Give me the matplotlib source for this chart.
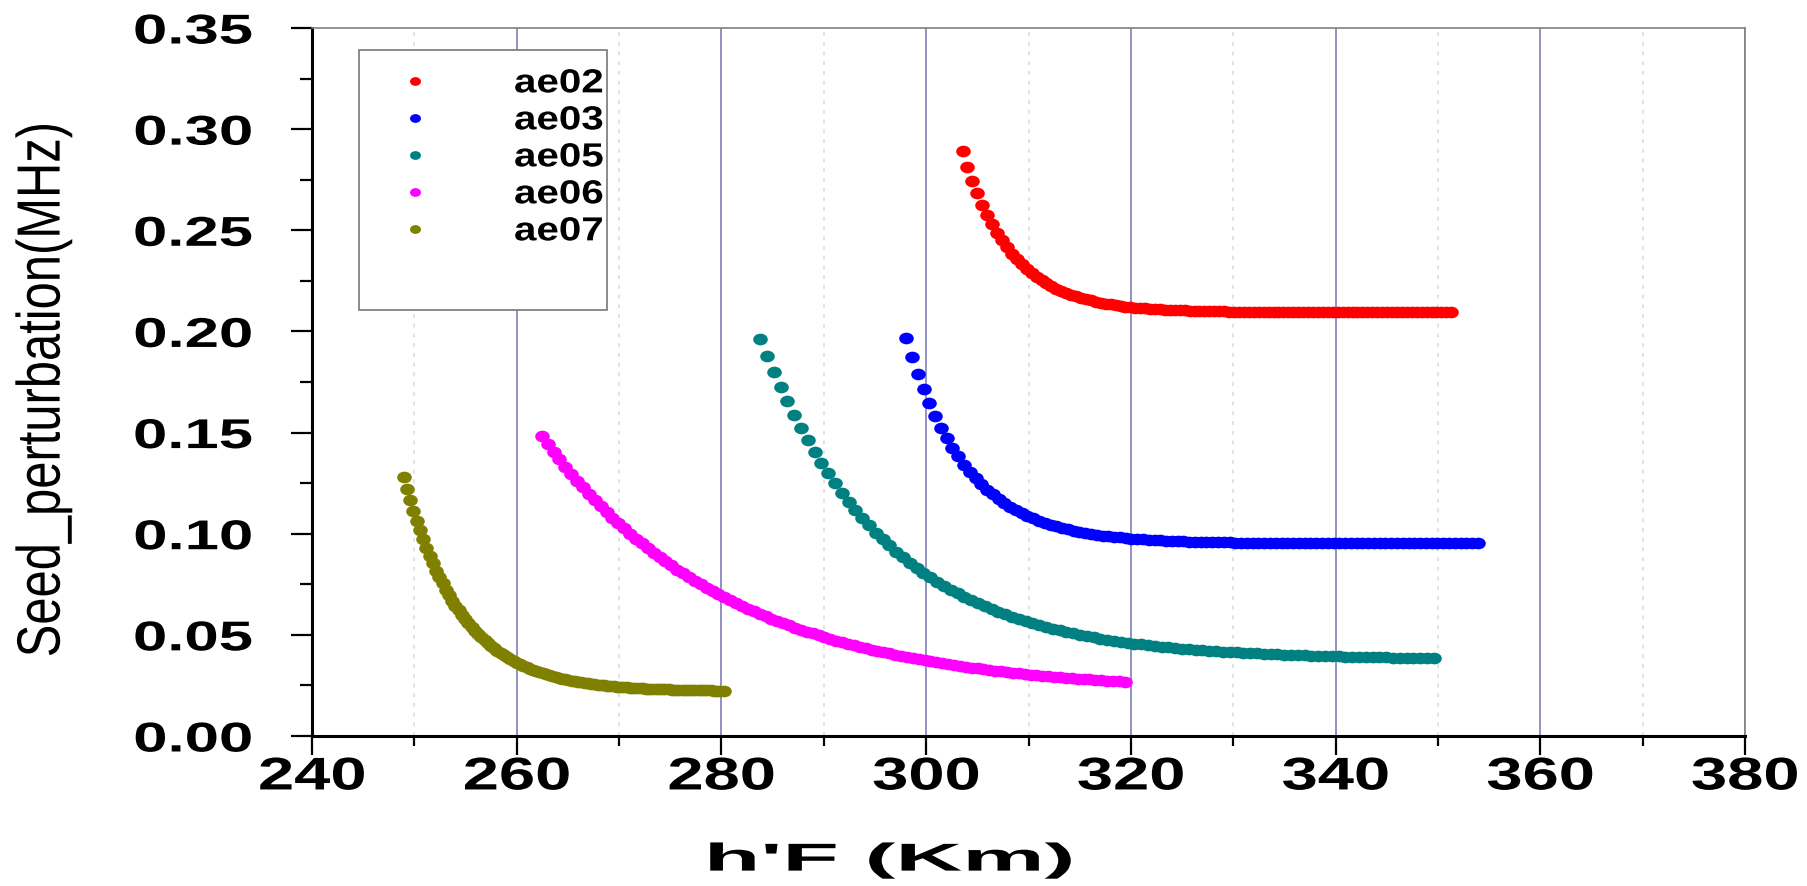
import numpy as np
import matplotlib
matplotlib.use("Agg")
import matplotlib.pyplot as plt
from matplotlib.path import Path
from matplotlib.patches import Rectangle
from matplotlib.patheffects import AbstractPathEffect
from matplotlib.transforms import Affine2D
from matplotlib.ticker import MultipleLocator, FormatStrFormatter

# h'F sweep (first, last) for each station; samples are evenly spaced
ae02_hf = (303.55, 351.3)
ae03_hf = (298.05, 353.9)
ae05_hf = (283.78, 349.6)
ae06_hf = (262.44, 319.4)
ae07_hf = (248.96, 280.2)

# seed perturbation (MHz), 100 samples per station
ae02_seed = [
    0.2890, 0.2814, 0.2745, 0.2682, 0.2626, 0.2575, 0.2529, 0.2487, 0.2450, 0.2416,
    0.2385, 0.2357, 0.2332, 0.2309, 0.2289, 0.2270, 0.2253, 0.2238, 0.2224, 0.2212,
    0.2201, 0.2191, 0.2181, 0.2173, 0.2166, 0.2159, 0.2153, 0.2147, 0.2142, 0.2138,
    0.2134, 0.2130, 0.2127, 0.2123, 0.2121, 0.2118, 0.2116, 0.2114, 0.2112, 0.2111,
    0.2109, 0.2108, 0.2107, 0.2105, 0.2104, 0.2104, 0.2103, 0.2102, 0.2101, 0.2101,
    0.2100, 0.2100, 0.2099, 0.2099, 0.2098, 0.2098, 0.2098, 0.2098, 0.2097, 0.2097,
    0.2097, 0.2097, 0.2097, 0.2096, 0.2096, 0.2096, 0.2096, 0.2096, 0.2096, 0.2096,
    0.2096, 0.2096, 0.2096, 0.2096, 0.2096, 0.2095, 0.2095, 0.2095, 0.2095, 0.2095,
    0.2095, 0.2095, 0.2095, 0.2095, 0.2095, 0.2095, 0.2095, 0.2095, 0.2095, 0.2095,
    0.2095, 0.2095, 0.2095, 0.2095, 0.2095, 0.2095, 0.2095, 0.2095, 0.2095, 0.2095,
]
ae03_seed = [
    0.1968, 0.1875, 0.1791, 0.1715, 0.1645, 0.1582, 0.1524, 0.1472, 0.1425, 0.1382,
    0.1342, 0.1307, 0.1274, 0.1245, 0.1218, 0.1194, 0.1172, 0.1152, 0.1134, 0.1117,
    0.1102, 0.1088, 0.1076, 0.1065, 0.1054, 0.1045, 0.1037, 0.1029, 0.1022, 0.1015,
    0.1010, 0.1004, 0.1000, 0.0995, 0.0991, 0.0988, 0.0984, 0.0982, 0.0979, 0.0976,
    0.0974, 0.0972, 0.0970, 0.0969, 0.0967, 0.0966, 0.0965, 0.0963, 0.0962, 0.0961,
    0.0961, 0.0960, 0.0959, 0.0958, 0.0958, 0.0957, 0.0957, 0.0956, 0.0956, 0.0956,
    0.0955, 0.0955, 0.0955, 0.0954, 0.0954, 0.0954, 0.0954, 0.0954, 0.0953, 0.0953,
    0.0953, 0.0953, 0.0953, 0.0953, 0.0953, 0.0953, 0.0953, 0.0952, 0.0952, 0.0952,
    0.0952, 0.0952, 0.0952, 0.0952, 0.0952, 0.0952, 0.0952, 0.0952, 0.0952, 0.0952,
    0.0952, 0.0952, 0.0952, 0.0952, 0.0952, 0.0952, 0.0952, 0.0952, 0.0952, 0.0952,
]
ae05_seed = [
    0.1964, 0.1880, 0.1800, 0.1725, 0.1654, 0.1586, 0.1522, 0.1461, 0.1404, 0.1350,
    0.1298, 0.1249, 0.1203, 0.1159, 0.1118, 0.1079, 0.1042, 0.1006, 0.0973, 0.0942,
    0.0912, 0.0883, 0.0857, 0.0831, 0.0807, 0.0785, 0.0763, 0.0743, 0.0723, 0.0705,
    0.0688, 0.0671, 0.0656, 0.0641, 0.0627, 0.0614, 0.0601, 0.0590, 0.0578, 0.0568,
    0.0558, 0.0548, 0.0539, 0.0531, 0.0522, 0.0515, 0.0508, 0.0501, 0.0494, 0.0488,
    0.0482, 0.0477, 0.0471, 0.0467, 0.0462, 0.0457, 0.0453, 0.0449, 0.0445, 0.0442,
    0.0438, 0.0435, 0.0432, 0.0429, 0.0427, 0.0424, 0.0422, 0.0419, 0.0417, 0.0415,
    0.0413, 0.0411, 0.0409, 0.0408, 0.0406, 0.0405, 0.0403, 0.0402, 0.0401, 0.0400,
    0.0398, 0.0397, 0.0396, 0.0395, 0.0394, 0.0394, 0.0393, 0.0392, 0.0391, 0.0390,
    0.0390, 0.0389, 0.0389, 0.0388, 0.0388, 0.0387, 0.0387, 0.0386, 0.0386, 0.0385,
]
ae06_seed = [
    0.1484, 0.1444, 0.1405, 0.1368, 0.1332, 0.1297, 0.1263, 0.1230, 0.1198, 0.1167,
    0.1137, 0.1108, 0.1080, 0.1053, 0.1026, 0.1001, 0.0976, 0.0952, 0.0929, 0.0906,
    0.0885, 0.0864, 0.0843, 0.0823, 0.0804, 0.0786, 0.0768, 0.0750, 0.0734, 0.0717,
    0.0702, 0.0686, 0.0671, 0.0657, 0.0643, 0.0630, 0.0617, 0.0604, 0.0592, 0.0580,
    0.0568, 0.0557, 0.0547, 0.0536, 0.0526, 0.0516, 0.0507, 0.0498, 0.0489, 0.0480,
    0.0472, 0.0464, 0.0456, 0.0448, 0.0441, 0.0434, 0.0427, 0.0420, 0.0414, 0.0408,
    0.0402, 0.0396, 0.0390, 0.0384, 0.0379, 0.0374, 0.0369, 0.0364, 0.0359, 0.0355,
    0.0350, 0.0346, 0.0342, 0.0338, 0.0334, 0.0330, 0.0327, 0.0323, 0.0320, 0.0317,
    0.0313, 0.0310, 0.0307, 0.0304, 0.0302, 0.0299, 0.0296, 0.0294, 0.0291, 0.0289,
    0.0287, 0.0284, 0.0282, 0.0280, 0.0278, 0.0276, 0.0274, 0.0272, 0.0270, 0.0269,
]
ae07_seed = [
    0.1282, 0.1223, 0.1167, 0.1114, 0.1064, 0.1017, 0.0973, 0.0931, 0.0891, 0.0854,
    0.0818, 0.0785, 0.0754, 0.0724, 0.0696, 0.0669, 0.0644, 0.0621, 0.0598, 0.0577,
    0.0557, 0.0538, 0.0521, 0.0504, 0.0488, 0.0473, 0.0459, 0.0446, 0.0433, 0.0421,
    0.0410, 0.0399, 0.0389, 0.0380, 0.0371, 0.0363, 0.0355, 0.0347, 0.0340, 0.0333,
    0.0327, 0.0321, 0.0316, 0.0310, 0.0305, 0.0300, 0.0296, 0.0292, 0.0288, 0.0284,
    0.0280, 0.0277, 0.0274, 0.0271, 0.0268, 0.0265, 0.0263, 0.0260, 0.0258, 0.0256,
    0.0254, 0.0252, 0.0250, 0.0249, 0.0247, 0.0246, 0.0244, 0.0243, 0.0242, 0.0240,
    0.0239, 0.0238, 0.0237, 0.0236, 0.0235, 0.0234, 0.0234, 0.0233, 0.0232, 0.0231,
    0.0231, 0.0230, 0.0230, 0.0229, 0.0229, 0.0228, 0.0228, 0.0227, 0.0227, 0.0226,
    0.0226, 0.0226, 0.0225, 0.0225, 0.0225, 0.0225, 0.0224, 0.0224, 0.0224, 0.0224,
]

stations = ["ae02", "ae03", "ae05", "ae06", "ae07"]
colors = ["#ff0000", "#0000ff", "#008080", "#ff00ff", "#808000"]


class Stretch(AbstractPathEffect):
    """Scale glyphs along the text direction, pinned at a fraction of the width."""

    def __init__(self, sx, anchor=0.5):
        super().__init__()
        self.sx = sx
        self.anchor = anchor

    def draw_path(self, renderer, gc, tpath, affine, rgbFace=None):
        xs = tpath.vertices[:, 0]
        if len(xs):
            x0 = xs.min() + self.anchor * (xs.max() - xs.min())
            affine = Affine2D().translate(-x0, 0).scale(self.sx, 1).translate(x0, 0) + affine
        renderer.draw_path(gc, tpath, affine, rgbFace)


plt.rcParams["font.family"] = "Liberation Sans"

fig = plt.figure(figsize=(18.07, 8.87), dpi=100)
ax = fig.add_axes([0.1727, 0.1691, 0.7930, 0.7982])

# slightly flattened dots
circ = Path.unit_circle()
dot = Path(circ.vertices * [1.25, 1.0], circ.codes)

ranges = [ae02_hf, ae03_hf, ae05_hf, ae06_hf, ae07_hf]
seeds = [ae02_seed, ae03_seed, ae05_seed, ae06_seed, ae07_seed]
for name, (h0, h1), vals, c in zip(stations, ranges, seeds, colors):
    hf = np.linspace(h0, h1, len(vals))
    ax.plot(hf, vals, ls="none", marker=dot, markersize=10.5, markeredgewidth=0,
            color=c, label=name, zorder=3)

ax.xaxis.set_major_locator(MultipleLocator(20))
ax.xaxis.set_minor_locator(MultipleLocator(10))
ax.set_yticks(np.arange(0, 0.351, 0.05))
ax.yaxis.set_minor_locator(MultipleLocator(0.025))
ax.yaxis.set_major_formatter(FormatStrFormatter("%.2f"))

ax.set_axisbelow(True)
ax.grid(axis="x", which="major", color="#9090c4", lw=1.4)
ax.grid(axis="x", which="minor", color="#e2e2e2", lw=1.4, ls=(0, (2, 3)))

ax.tick_params(axis="y", which="major", length=15, width=1.6, pad=28, labelsize=30)
ax.tick_params(axis="y", which="minor", length=8.5, width=1.6)
ax.tick_params(axis="x", which="major", length=14, width=1.6, pad=0, labelsize=33)
ax.tick_params(axis="x", which="minor", length=7, width=1.6)

for s in ["left", "bottom"]:
    ax.spines[s].set_linewidth(2.2)
for s in ["top", "right"]:
    ax.spines[s].set_linewidth(1.2)
    ax.spines[s].set_color("#808080")

ax.set_xlim(240, 380)
ax.set_ylim(0, 0.35)

for lbl in ax.get_yticklabels():
    lbl.set_fontweight("bold")
    lbl.set_path_effects([Stretch(1.48, 1.0)])
for lbl in ax.get_xticklabels():
    lbl.set_fontweight("bold")
    lbl.set_path_effects([Stretch(1.42, 0.5)])

xl = ax.set_xlabel("h'F (Km)", fontsize=28, fontweight="bold")
xl.set_path_effects([Stretch(2.38, 0.5)])
xl.set_verticalalignment("center")
ax.xaxis.set_label_coords(0.402, -0.176)

yl = ax.set_ylabel("Seed_perturbation(MHz)", fontsize=44)
yl.set_path_effects([Stretch(0.80, 0.5)])
yl.set_verticalalignment("center")
ax.yaxis.set_label_coords(-0.187, 0.49)

# legend frame drawn separately so it fits the widened labels
ax.add_patch(Rectangle((0.0328, 0.601), 0.1732, 0.368, transform=ax.transAxes,
                       facecolor="white", edgecolor="#777777", lw=1.2, zorder=4))
leg = ax.legend(loc="upper left", bbox_to_anchor=(0.0602, 0.943), frameon=False,
                prop={"weight": "bold", "size": 24}, handlelength=1.0,
                handletextpad=2.47, labelspacing=0.18, borderpad=0,
                borderaxespad=0, markerscale=0.75)
leg.set_zorder(5)
for t in leg.get_texts():
    t.set_path_effects([Stretch(1.21, 0.0)])

fig.savefig("out.png", dpi=100)
